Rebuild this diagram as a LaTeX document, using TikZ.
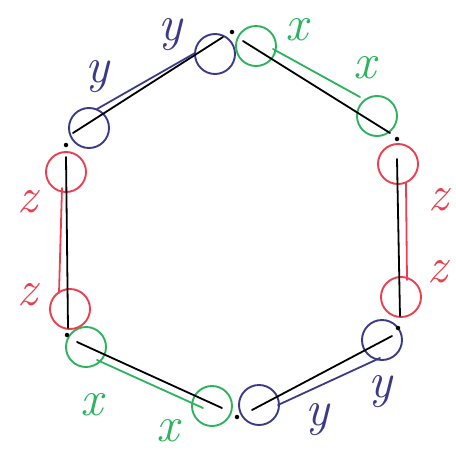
\documentclass[tikz,border=0pt]{standalone}
\usepackage{fontspec}
\usepackage{tikz}
\definecolor{pblue}{HTML}{3C3A86}
\definecolor{pgreen}{HTML}{2DB35E}
\definecolor{pred}{HTML}{E84050}
\begin{document}
\begin{tikzpicture}[x=1pt,y=-1pt,
  ring/.style={circle,draw=#1,line width=1.9pt,minimum size=40pt,inner sep=0pt},
  edge/.style={draw=black,line width=1.8pt,line cap=round},
  side/.style={draw=#1,line width=1.8pt,line cap=round},
  lab/.style={text=#1,font=\fontsize{50}{50}\selectfont\itshape,inner sep=0pt},
  vdot/.style={circle,fill=black,minimum size=4.5pt,inner sep=0pt}]
\useasboundingbox (0,0) rectangle (456,453);
% rings
\node[ring=pblue] (b1) at (215,54) {};
\node[ring=pblue] (b2) at (89,128) {};
\node[ring=pgreen] (g1) at (256,46) {};
\node[ring=pgreen] (g2) at (377,116) {};
\node[ring=pred] (r1) at (398,164) {};
\node[ring=pred] (r2) at (401,297) {};
\node[ring=pblue] (b3) at (382,340) {};
\node[ring=pblue] (b4) at (259,405) {};
\node[ring=pgreen] (g3) at (212,406) {};
\node[ring=pgreen] (g4) at (86,347) {};
\node[ring=pred] (r3) at (70,309) {};
\node[ring=pred] (r4) at (66,172) {};
% vertex dots
\node[vdot] (v1) at (232,32) {};
\node[vdot] (v2) at (397,139) {};
\node[vdot] (v3) at (398,328) {};
\node[vdot] (v4) at (237,417) {};
\node[vdot] (v5) at (67,335) {};
\node[vdot] (v6) at (66,145) {};
% hexagon edge ends
\coordinate (e1a) at (73,133); \coordinate (e1b) at (223,37);
\coordinate (e2a) at (243,41); \coordinate (e2b) at (390,133);
\coordinate (e3a) at (397,159); \coordinate (e3b) at (400,316);
\coordinate (e4a) at (392,336); \coordinate (e4b) at (252,410);
\coordinate (e5a) at (77,342); \coordinate (e5b) at (222,408);
\coordinate (e6a) at (66,157); \coordinate (e6b) at (68,328);
\draw[edge] (e1a) -- (e1b);
\draw[edge] (e2a) -- (e2b);
\draw[edge] (e3a) -- (e3b);
\draw[edge] (e4a) -- (e4b);
\draw[edge] (e5a) -- (e5b);
\draw[edge] (e6a) -- (e6b);
% coloured sides
\coordinate (s1a) at (97,109); \coordinate (s1b) at (195,53);
\coordinate (s2a) at (273,49); \coordinate (s2b) at (360,97);
\coordinate (s3a) at (406,183); \coordinate (s3b) at (407,280);
\coordinate (s4a) at (380,358); \coordinate (s4b) at (278,405);
\coordinate (s5a) at (97,360); \coordinate (s5b) at (203,408);
\coordinate (s6a) at (62,188); \coordinate (s6b) at (59,293);
\draw[side=pblue] (s1a) -- (s1b);
\draw[side=pgreen] (s2a) -- (s2b);
\draw[side=pred] (s3a) -- (s3b);
\draw[side=pblue] (s4a) -- (s4b);
\draw[side=pgreen] (s5a) -- (s5b);
\draw[side=pred] (s6a) -- (s6b);
% labels
\node[lab=pblue] (ly1) at (97,77) {y};
\node[lab=pblue] (ly2) at (170,35) {y};
\node[lab=pgreen] (lx1) at (297,30) {x};
\node[lab=pgreen] (lx2) at (365,68) {x};
\node[lab=pred] (lz1) at (27,202) {z};
\node[lab=pred] (lz2) at (27,295) {z};
\node[lab=pred] (lz3) at (438,200) {z};
\node[lab=pred] (lz4) at (437,272) {z};
\node[lab=pblue] (ly3) at (380,392) {y};
\node[lab=pblue] (ly4) at (317,420) {y};
\node[lab=pgreen] (lx3) at (92,405) {x};
\node[lab=pgreen] (lx4) at (168,431) {x};
\end{tikzpicture}
\end{document}
